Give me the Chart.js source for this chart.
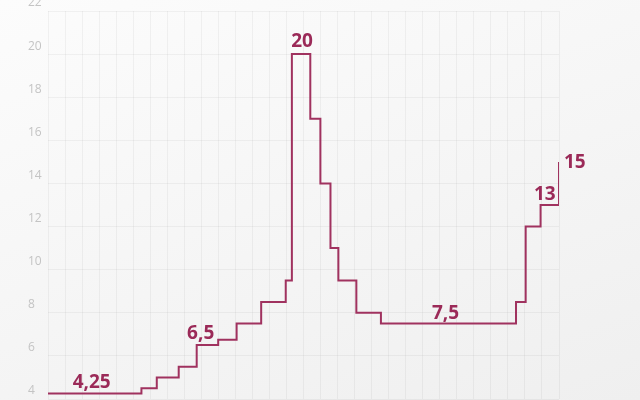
<!DOCTYPE html>
<html>
<head>
<meta charset="utf-8">
<script src="https://cdn.jsdelivr.net/npm/chart.js@4/dist/chart.umd.min.js"></script>
<style>
  html, body { margin: 0; padding: 0; }
  body { width: 640px; height: 400px; background: linear-gradient(160deg, #fcfcfc 0%, #f5f5f5 55%, #efefef 100%); }
  #wrap { position: relative; width: 640px; height: 400px; }
</style>
</head>
<body>
<div id="wrap"><canvas id="chart" width="640" height="400"></canvas></div>
<script>
// rate changes: date the new value starts, value
var rateDates = ['2020-08-21', '2021-03-22', '2021-04-26', '2021-06-15', '2021-07-26', '2021-09-13',
    '2021-10-25', '2021-12-20', '2022-02-14', '2022-02-28', '2022-04-11', '2022-05-04', '2022-05-27',
    '2022-06-14', '2022-07-25', '2022-09-19', '2023-07-24', '2023-08-15', '2023-09-18', '2023-10-30'];
var rateValues = [4.25, 4.5, 5, 5.5, 6.5, 6.75, 7.5, 8.5, 9.5, 20, 17, 14, 11, 9.5, 8, 7.5, 8.5, 12, 13, 15];

// value callouts and the point each one belongs to
var calloutTexts = ['4,25', '6,5', '20', '7,5', '13', '15'];
var calloutIndex = [0, 4, 9, 15, 18, 19];

var yTicks = [4, 6, 8, 10, 12, 14, 16, 18, 20, 22];

function to_day(s)
{
    var p = s.split('-');
    return Date.UTC(+p[0], +p[1] - 1, +p[2]) / 864e5;
}

var points = [];
for (var i = 0; i < rateDates.length; i++) {
    points.push({x: to_day(rateDates[i]), y: rateValues[i]});
}

var lineColor = '#a0325f';

// where each callout sits relative to its step (pixels)
var calloutStyle = [
    {mode: 'mid', dx: -3, dy: -6, align: 'center'},
    {mode: 'point', dx: 4, dy: -6, align: 'center'},
    {mode: 'mid', dx: 1, dy: -7, align: 'center'},
    {mode: 'mid', dx: -3, dy: -5, align: 'center'},
    {mode: 'mid', dx: -5, dy: -5, align: 'center'},
    {mode: 'point', dx: 5, dy: 6, align: 'left'}
];

const callouts = {
    id: 'callouts',
    afterDatasetsDraw(chart) {
        const ctx = chart.ctx;
        const xs = chart.scales.x, ys = chart.scales.y;
        ctx.save();
        ctx.font = 'bold 19px "Open Sans"';
        ctx.fillStyle = '#9b2a58';
        ctx.textBaseline = 'alphabetic';
        for (let k = 0; k < calloutTexts.length; k++) {
            const idx = calloutIndex[k];
            const st = calloutStyle[k];
            let px = xs.getPixelForValue(points[idx].x);
            if (st.mode === 'mid' && idx + 1 < points.length) {
                px = (px + xs.getPixelForValue(points[idx + 1].x)) / 2;
            }
            const py = ys.getPixelForValue(points[idx].y);
            ctx.textAlign = st.align;
            ctx.fillText(calloutTexts[k], px + st.dx, py + st.dy);
        }
        ctx.restore();
    }
};

var xMin = to_day(rateDates[0]);
var xMax = to_day(rateDates[rateDates.length - 1]);

new Chart(document.getElementById('chart').getContext('2d'), {
    type: 'line',
    data: {
        datasets: [{
            data: points,
            stepped: 'before',
            borderColor: lineColor,
            borderWidth: 2,
            pointRadius: 0,
            fill: false
        }]
    },
    options: {
        responsive: false,
        animation: false,
        layout: { padding: { left: 28, right: 81, top: 11, bottom: 1 } },
        plugins: { legend: { display: false }, tooltip: { enabled: false } },
        scales: {
            x: {
                type: 'linear',
                min: xMin,
                max: xMax,
                ticks: { display: false, count: 31, autoSkip: false },
                grid: { color: 'rgba(0,0,0,0.045)', drawTicks: false },
                border: { display: false }
            },
            y: {
                min: 4,
                max: 22,
                afterBuildTicks: function (scale) {
                    scale.ticks = yTicks.map(v => ({value: v}));
                },
                afterFit: function (scale) {
                    scale.width = 20;
                    scale.paddingTop = 0;
                    scale.paddingBottom = 0;
                },
                ticks: {
                    color: '#c4c4c4',
                    font: { family: '"Open Sans"', size: 12 },
                    crossAlign: 'far',
                    labelOffset: -8,
                    padding: 0
                },
                grid: { color: 'rgba(0,0,0,0.045)', drawTicks: false },
                border: { display: false }
            }
        }
    },
    plugins: [callouts]
});
</script>
</body>
</html>
